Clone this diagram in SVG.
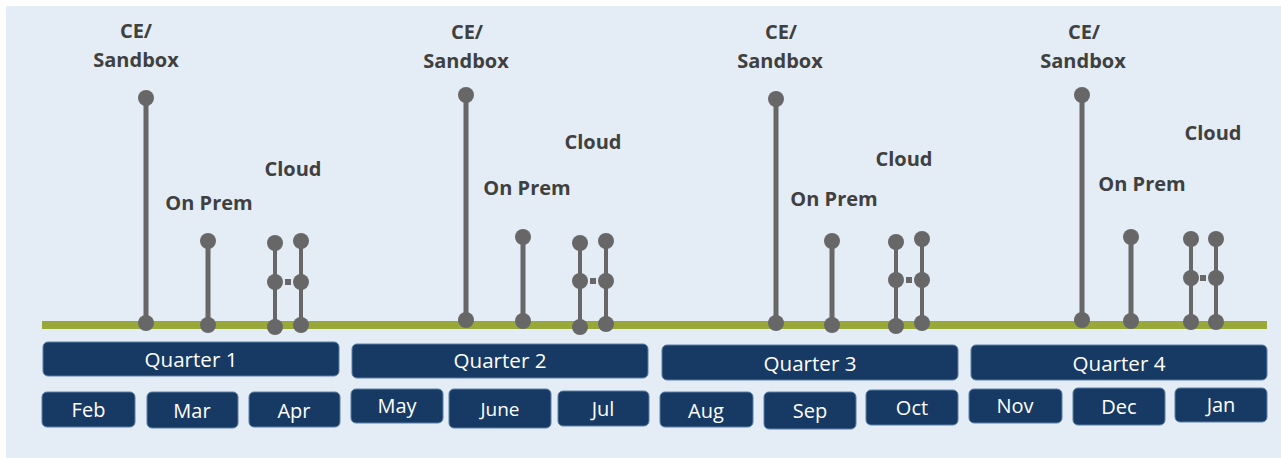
<svg xmlns="http://www.w3.org/2000/svg" width="1281" height="458" viewBox="0 0 1281 458">
<style>
.bg{fill:#e4edf5}
.tl{fill:#9aa83a}
.stem{stroke:#676767;stroke-width:5;fill:none}
.stem2{stroke:#676767;stroke-width:4;fill:none}
.dot{fill:#676767}
.sq{fill:#676767}
.lbl{font-family:"Open Sans","Liberation Sans",sans-serif;font-weight:bold;font-size:20px;fill:#404040;text-anchor:middle}
.box{fill:#173a64;stroke:#5b7ea6;stroke-width:1}
.bt{font-family:"Open Sans","Liberation Sans",sans-serif;font-size:20px;fill:#ffffff;text-anchor:middle}
.qt{font-size:20.6px}
</style>
<rect class="bg" x="6" y="6" width="1275" height="452"/>

<g id="connectors">
  <rect id="timeline" class="tl" x="42" y="321" width="1225" height="8"/>
</g>

<!-- Quarter 1 -->
<g id="q1-ce">
  <line class="stem" x1="146" y1="98" x2="146" y2="323"/>
  <circle class="dot" cx="146" cy="98" r="8"/><circle class="dot" cx="146" cy="323" r="8"/>
  <text class="lbl" x="136" y="38">CE/</text><text class="lbl" x="136" y="67">Sandbox</text>
</g>
<g id="q1-onprem">
  <line class="stem" x1="208" y1="241" x2="208" y2="325"/>
  <circle class="dot" cx="208" cy="241" r="8"/><circle class="dot" cx="208" cy="325" r="8"/>
  <text class="lbl" x="209" y="210">On Prem</text>
</g>
<g id="q1-cloud">
  <line class="stem2" x1="275" y1="243" x2="275" y2="327"/>
  <line class="stem2" x1="301" y1="241" x2="301" y2="325"/>
  <circle class="dot" cx="275" cy="243" r="8"/><circle class="dot" cx="275" cy="282" r="8"/><circle class="dot" cx="275" cy="327" r="8"/>
  <circle class="dot" cx="301" cy="241" r="8"/><circle class="dot" cx="301" cy="282" r="8"/><circle class="dot" cx="301" cy="325" r="8"/>
  <rect class="sq" x="285" y="279" width="6" height="6"/>
  <text class="lbl" x="293" y="176">Cloud</text>
</g>

<!-- Quarter 2 -->
<g id="q2-ce">
  <line class="stem" x1="466" y1="95" x2="466" y2="320"/>
  <circle class="dot" cx="466" cy="95" r="8"/><circle class="dot" cx="466" cy="320" r="8"/>
  <text class="lbl" x="467" y="39">CE/</text><text class="lbl" x="466" y="68">Sandbox</text>
</g>
<g id="q2-onprem">
  <line class="stem" x1="523" y1="237" x2="523" y2="321"/>
  <circle class="dot" cx="523" cy="237" r="8"/><circle class="dot" cx="523" cy="321" r="8"/>
  <text class="lbl" x="527" y="195">On Prem</text>
</g>
<g id="q2-cloud">
  <line class="stem2" x1="580" y1="243" x2="580" y2="327"/>
  <line class="stem2" x1="606" y1="241" x2="606" y2="324"/>
  <circle class="dot" cx="580" cy="243" r="8"/><circle class="dot" cx="580" cy="281" r="8"/><circle class="dot" cx="580" cy="327" r="8"/>
  <circle class="dot" cx="606" cy="241" r="8"/><circle class="dot" cx="606" cy="281" r="8"/><circle class="dot" cx="606" cy="324" r="8"/>
  <rect class="sq" x="590" y="278" width="6" height="6"/>
  <text class="lbl" x="593" y="149">Cloud</text>
</g>

<!-- Quarter 3 -->
<g id="q3-ce">
  <line class="stem" x1="776" y1="99" x2="776" y2="323"/>
  <circle class="dot" cx="776" cy="99" r="8"/><circle class="dot" cx="776" cy="323" r="8"/>
  <text class="lbl" x="781" y="39">CE/</text><text class="lbl" x="780" y="68">Sandbox</text>
</g>
<g id="q3-onprem">
  <line class="stem" x1="832" y1="241" x2="832" y2="325"/>
  <circle class="dot" cx="832" cy="241" r="8"/><circle class="dot" cx="832" cy="325" r="8"/>
  <text class="lbl" x="834" y="206">On Prem</text>
</g>
<g id="q3-cloud">
  <line class="stem2" x1="896" y1="242" x2="896" y2="326"/>
  <line class="stem2" x1="922" y1="239" x2="922" y2="323"/>
  <circle class="dot" cx="896" cy="242" r="8"/><circle class="dot" cx="896" cy="280" r="8"/><circle class="dot" cx="896" cy="326" r="8"/>
  <circle class="dot" cx="922" cy="239" r="8"/><circle class="dot" cx="922" cy="280" r="8"/><circle class="dot" cx="922" cy="323" r="8"/>
  <rect class="sq" x="906" y="277" width="6" height="6"/>
  <text class="lbl" x="904" y="166">Cloud</text>
</g>

<!-- Quarter 4 -->
<g id="q4-ce">
  <line class="stem" x1="1082" y1="95" x2="1082" y2="320"/>
  <circle class="dot" cx="1082" cy="95" r="8"/><circle class="dot" cx="1082" cy="320" r="8"/>
  <text class="lbl" x="1084" y="39">CE/</text><text class="lbl" x="1083" y="68">Sandbox</text>
</g>
<g id="q4-onprem">
  <line class="stem" x1="1131" y1="237" x2="1131" y2="321"/>
  <circle class="dot" cx="1131" cy="237" r="8"/><circle class="dot" cx="1131" cy="321" r="8"/>
  <text class="lbl" x="1142" y="191">On Prem</text>
</g>
<g id="q4-cloud">
  <line class="stem2" x1="1191" y1="239" x2="1191" y2="322"/>
  <line class="stem2" x1="1216" y1="239" x2="1216" y2="322"/>
  <circle class="dot" cx="1191" cy="239" r="8"/><circle class="dot" cx="1191" cy="278" r="8"/><circle class="dot" cx="1191" cy="322" r="8"/>
  <circle class="dot" cx="1216" cy="239" r="8"/><circle class="dot" cx="1216" cy="278" r="8"/><circle class="dot" cx="1216" cy="322" r="8"/>
  <rect class="sq" x="1200" y="275" width="6" height="6"/>
  <text class="lbl" x="1213" y="140">Cloud</text>
</g>

<!-- Quarter boxes -->
<g id="quarter1"><rect class="box" x="43" y="342" width="296" height="34" rx="5"/><text class="bt qt" x="191" y="367">Quarter 1</text></g>
<g id="quarter2"><rect class="box" x="352" y="344" width="296" height="34" rx="5"/><text class="bt qt" x="500" y="368">Quarter 2</text></g>
<g id="quarter3"><rect class="box" x="662" y="345" width="296" height="35" rx="5"/><text class="bt qt" x="810" y="371">Quarter 3</text></g>
<g id="quarter4"><rect class="box" x="971" y="345" width="296" height="35" rx="5"/><text class="bt qt" x="1119" y="371">Quarter 4</text></g>

<!-- Month boxes -->
<g id="feb"><rect class="box" x="42" y="392" width="93" height="35" rx="5"/><text class="bt" x="88.5" y="417">Feb</text></g>
<g id="mar"><rect class="box" x="147" y="392" width="91" height="36" rx="5"/><text class="bt" x="192" y="418">Mar</text></g>
<g id="apr"><rect class="box" x="249" y="392" width="91" height="35" rx="5"/><text class="bt" x="294" y="418">Apr</text></g>
<g id="may"><rect class="box" x="351" y="389" width="92" height="34" rx="5"/><text class="bt" x="397" y="413">May</text></g>
<g id="june"><rect class="box" x="449" y="389" width="102" height="39" rx="5"/><text class="bt" x="500" y="416" style="font-size:19px">June</text></g>
<g id="jul"><rect class="box" x="558" y="391" width="91" height="35" rx="5"/><text class="bt" x="603" y="416">Jul</text></g>
<g id="aug"><rect class="box" x="660" y="392" width="93" height="35" rx="5"/><text class="bt" x="706" y="418">Aug</text></g>
<g id="sep"><rect class="box" x="764" y="392" width="92" height="37" rx="5"/><text class="bt" x="810" y="418">Sep</text></g>
<g id="oct"><rect class="box" x="866" y="390" width="92" height="35" rx="5"/><text class="bt" x="912" y="415">Oct</text></g>
<g id="nov"><rect class="box" x="969" y="389" width="93" height="34" rx="5"/><text class="bt" x="1015" y="413">Nov</text></g>
<g id="dec"><rect class="box" x="1073" y="388" width="92" height="37" rx="5"/><text class="bt" x="1119" y="414">Dec</text></g>
<g id="jan"><rect class="box" x="1175" y="388" width="92" height="34" rx="5"/><text class="bt" x="1221" y="412">Jan</text></g>
</svg>
